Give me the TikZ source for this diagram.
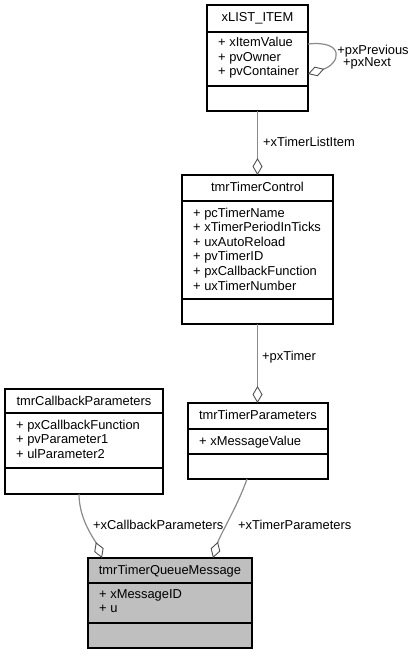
\documentclass[tikz,border=0pt]{standalone}
\usepackage{fontspec}
\setmainfont{Liberation Sans}
\usetikzlibrary{arrows.meta}
\definecolor{connc}{HTML}{8A8A8A}
\definecolor{tipc}{HTML}{505050}
\definecolor{qmfill}{HTML}{BFBFBF}
\begin{document}
\begin{tikzpicture}[x=1pt,y=-1pt,
  classbox/.style={draw=black,line width=1.3pt,inner sep=0pt,outer sep=0pt,fill=white},
  sepline/.style={draw=black,line width=1.3pt},
  txt/.style={inner sep=0pt,font=\fontsize{12.9pt}{14.6pt}\selectfont},
  conn/.style={draw=connc,line width=1.2pt,-{Diamond[length=17pt,width=10pt,fill=white,color=tipc,line width=0.9pt]}}]
\useasboundingbox (0,0) rectangle (414,655);

% xLIST_ITEM
\node[classbox,minimum width=101pt,minimum height=106pt] (li) at (257.5,58) {};
\draw[sepline] (li.west |- 0,32) -- (li.east |- 0,32);
\draw[sepline] (li.west |- 0,86) -- (li.east |- 0,86);
\node[txt,anchor=base] (lit) at (257.5,22) {xLIST\_ITEM};
\node[txt,anchor=base west] (lim1) at (218,47) {+ xItemValue};
\node[txt,anchor=base west] (lim2) at (218,61.5) {+ pvOwner};
\node[txt,anchor=base west] (lim3) at (218,76) {+ pvContainer};

% tmrTimerControl
\node[classbox,minimum width=151pt,minimum height=149pt] (tc) at (257.5,249.5) {};
\draw[sepline] (tc.west |- 0,201) -- (tc.east |- 0,201);
\draw[sepline] (tc.west |- 0,299) -- (tc.east |- 0,299);
\node[txt,anchor=base] (tct) at (257.5,191) {tmrTimerControl};
\node[txt,anchor=base west] (tcm1) at (193,217) {+ pcTimerName};
\node[txt,anchor=base west] (tcm2) at (193,231.6) {+ xTimerPeriodInTicks};
\node[txt,anchor=base west] (tcm3) at (193,246.2) {+ uxAutoReload};
\node[txt,anchor=base west] (tcm4) at (193,260.8) {+ pvTimerID};
\node[txt,anchor=base west] (tcm5) at (193,275.4) {+ pxCallbackFunction};
\node[txt,anchor=base west] (tcm6) at (193,290) {+ uxTimerNumber};

% tmrTimerParameters
\node[classbox,minimum width=140pt,minimum height=76pt] (tp) at (258,441) {};
\draw[sepline] (tp.west |- 0,429) -- (tp.east |- 0,429);
\draw[sepline] (tp.west |- 0,454) -- (tp.east |- 0,454);
\node[txt,anchor=base] (tpt) at (258,419) {tmrTimerParameters};
\node[txt,anchor=base west] (tpm1) at (199,445) {+ xMessageValue};

% tmrCallbackParameters
\node[classbox,minimum width=158pt,minimum height=105pt] (cb) at (84,441.5) {};
\draw[sepline] (cb.west |- 0,413) -- (cb.east |- 0,413);
\draw[sepline] (cb.west |- 0,468) -- (cb.east |- 0,468);
\node[txt,anchor=base] (cbt) at (84,405) {tmrCallbackParameters};
\node[txt,anchor=base west] (cbm1) at (16,429.3) {+ pxCallbackFunction};
\node[txt,anchor=base west] (cbm2) at (16,443.6) {+ pvParameter1};
\node[txt,anchor=base west] (cbm3) at (16,458) {+ ulParameter2};

% tmrTimerQueueMessage
\node[classbox,fill=qmfill,minimum width=164pt,minimum height=90pt] (qm) at (170,603) {};
\draw[sepline] (qm.west |- 0,583) -- (qm.east |- 0,583);
\draw[sepline] (qm.west |- 0,623) -- (qm.east |- 0,623);
\node[txt,anchor=base] (qmt) at (170,574) {tmrTimerQueueMessage};
\node[txt,anchor=base west] (qmm1) at (99,598.3) {+ xMessageID};
\node[txt,anchor=base west] (qmm2) at (99,612.6) {+ u};

% connectors
\draw[conn] ([yshift=14pt]li.east) .. controls +(38,-4) and +(32,-10) .. ([yshift=-16pt]li.east);
\draw[conn] (li.south) -- (tc.north);
\draw[conn] (tc.south) -- (tc.south |- tp.north);
\draw[conn] ([xshift=74pt]cb.south west) .. controls +(0,26) and +(-7,-18) .. ([xshift=14pt]qm.north west);
\draw[conn] ([xshift=59pt]tp.south west) .. controls +(-9,26) and +(7,-23) .. ([xshift=125pt]qm.north west);

% labels
\node[txt,anchor=base] (lpp) at (373,55) {+pxPrevious};
\node[txt,anchor=base] (lpn) at (367,67) {+pxNext};
\node[txt,anchor=base west] (llist) at (263,147) {+xTimerListItem};
\node[txt,anchor=base west] (ltimer) at (262,360) {+pxTimer};
\node[txt,anchor=base west] (lcb) at (93,529) {+xCallbackParameters};
\node[txt,anchor=base west] (ltp) at (238,529) {+xTimerParameters};
\end{tikzpicture}
\end{document}
